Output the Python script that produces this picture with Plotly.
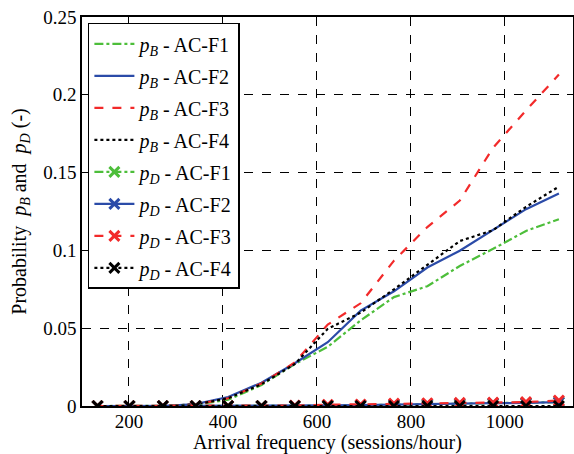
import plotly.graph_objects as go

x_vals = [133, 201, 272, 342, 411, 482, 553, 623, 693, 764, 835, 904, 975, 1045, 1115]

pB_F1 = [0, 0, 0, 0.0008, 0.004, 0.0135, 0.027, 0.038, 0.055, 0.070, 0.077, 0.090, 0.101, 0.1125, 0.120]
pB_F2 = [0, 0, 0, 0.0012, 0.0058, 0.015, 0.0275, 0.041, 0.0613, 0.0737, 0.089, 0.0998, 0.113, 0.1265, 0.1365]
pB_F3 = [0, 0, 0, 0.0010, 0.005, 0.0145, 0.028, 0.0523, 0.066, 0.0934, 0.115, 0.132, 0.166, 0.190, 0.213]
pB_F4 = [0, 0, 0, 0.0010, 0.005, 0.014, 0.027, 0.0496, 0.060, 0.075, 0.091, 0.106, 0.113, 0.128, 0.141]

pD_F1 = [0, 0, 0, 0, 0, 0, 0, 0.0003, 0.0005, 0.0008, 0.0010, 0.0012, 0.0015, 0.0020, 0.0025]
pD_F2 = [0, 0, 0, 0, 0, 0, 0.0002, 0.0004, 0.0006, 0.0010, 0.0013, 0.0015, 0.0018, 0.0020, 0.0025]
pD_F3 = [0, 0, 0, 0, 0, 0, 0.0003, 0.0008, 0.0010, 0.0015, 0.0018, 0.0020, 0.0022, 0.0025, 0.0035]
pD_F4 = [0, 0, 0, 0, 0, 0, 0, 0, 0, 0, 0, 0, 0, 0, 0]

x_ticks = [200, 400, 600, 800, 1000]
y_ticks = [0, 0.05, 0.1, 0.15, 0.2, 0.25]
y_ticklabels = ["0", "0.05", "0.1", "0.15", "0.2", "0.25"]

names = ["AC-F1", "AC-F2", "AC-F3", "AC-F4"]
colors = ["#4DBE3A", "#2B4BA8", "#F22A2A", "#000000"]
dashes = ["dashdot", "solid", "dash", "dot"]

FONT = "Liberation Serif, Times New Roman, serif"

fig = go.Figure()
k = 0
for ys, nm, c, d in zip([pB_F1, pB_F2, pB_F3, pB_F4], names, colors, dashes):
    fig.add_trace(go.Scatter(x=x_vals, y=ys, mode="lines",
                             name="<i>p</i><sub><i>B</i></sub> - " + nm,
                             legendgroup="g%d" % k,
                             line=dict(color=c, dash=d, width=2.2)))
    k += 1
for ys, nm, c, d in zip([pD_F1, pD_F2, pD_F3, pD_F4], names, colors, dashes):
    fig.add_trace(go.Scatter(x=x_vals, y=ys, mode="lines+markers",
                             name="<i>p</i><sub><i>D</i></sub> - " + nm,
                             legendgroup="g%d" % k,
                             line=dict(color=c, dash=d, width=2.2),
                             marker=dict(symbol="x-thin", size=10, color=c,
                                         line=dict(color=c, width=3))))
    k += 1

axis_common = dict(
    showgrid=True, gridcolor="black", griddash="dash", gridwidth=1,
    showline=True, linecolor="black", linewidth=1.5, mirror="ticks",
    ticks="inside", ticklen=6, tickcolor="black",
    zeroline=False, automargin=False,
    tickfont=dict(family=FONT, size=19, color="black"),
)

fig.update_xaxes(range=[100, 1145], tickvals=x_ticks, ticklabelstandoff=-3,
                 title=dict(text="Arrival frequency (sessions/hour)",
                            font=dict(family=FONT, size=20, color="black"),
                            standoff=3),
                 **axis_common)
fig.update_yaxes(range=[0, 0.25], tickvals=y_ticks, ticktext=y_ticklabels,
                 title=dict(text="Probability  <i>p</i><sub><i>B</i></sub> and  <i>p</i><sub><i>D</i></sub> (-)",
                            font=dict(family=FONT, size=20, color="black"),
                            standoff=11),
                 **axis_common)

fig.update_layout(
    width=574, height=454,
    margin=dict(l=82, r=1, t=17, b=48, pad=0),
    paper_bgcolor="white", plot_bgcolor="white",
    font=dict(family=FONT, color="black"),
    showlegend=True,
    legend=dict(x=0.012, y=0.985, xanchor="left", yanchor="top",
                bgcolor="white", bordercolor="black", borderwidth=1.5,
                font=dict(family=FONT, size=20, color="black"),
                itemwidth=40, tracegroupgap=3),
)

fig.write_html("out.html", config={"displayModeBar": False},
               post_script="document.body.style.margin='0';document.body.style.padding='0';")
